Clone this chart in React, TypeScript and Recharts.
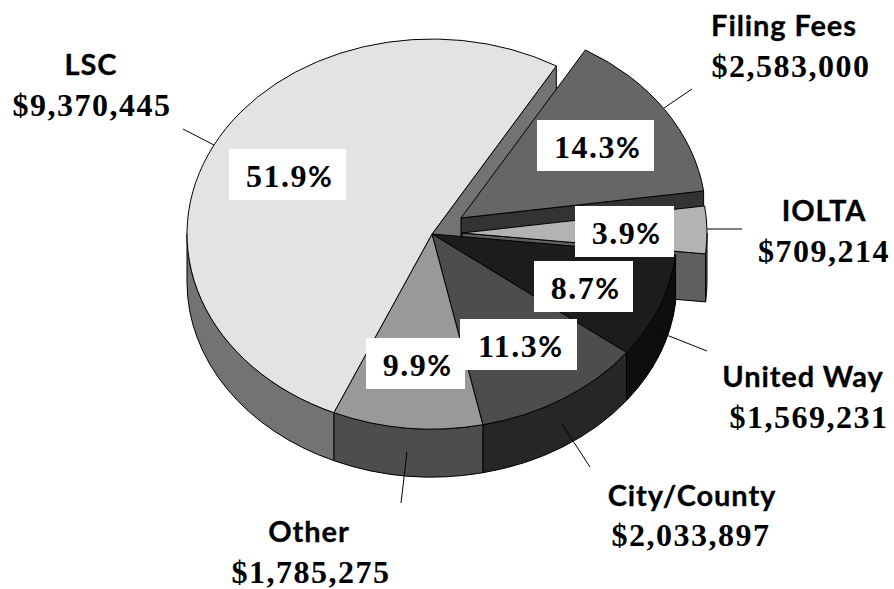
import React from "react";
import { PieChart, Pie } from "recharts";

const categories = ["Filing Fees", "IOLTA", "United Way", "City/County", "Other", "LSC"];
const amounts = [2583000, 709214, 1569231, 2033897, 1785275, 9370445];
const topFills = ["#666666", "#b3b3b3", "#1c1c1c", "#4d4d4d", "#999999", "#e3e3e3"];
const wallFills = ["#333333", "#5f5f5f", "#0e0e0e", "#262626", "#4d4d4d", "#737373"];

const rows = categories.map((name, i) => ({ name, value: amounts[i] }));

const W = 894;
const H = 589;
const CX = 432;
const CY = 234;
const RX = 245;
const RY = 195;
const DEPTH = 48;
const START = 59.5;
const NAME_FONT = "Lato, 'Open Sans', sans-serif";
const NUM_FONT = "'Liberation Serif', serif";

const explode: Record<string, [number, number]> = {
  "Filing Fees": [29, -16],
  IOLTA: [30, -1],
};

const layout: Record<string, { box: number[]; names: number[]; money: number[]; lead: number[] }> = {
  "Filing Fees": { box: [537, 120, 117, 51], names: [784, 36], money: [791, 77], lead: [692, 89, 664, 108] },
  IOLTA: { box: [575, 206, 99, 51], names: [824, 221], money: [824, 262], lead: [707, 229, 742, 229] },
  "United Way": { box: [534, 261, 99, 51], names: [803, 387], money: [809, 428], lead: [659, 332, 707, 351] },
  "City/County": { box: [460, 319, 117, 51], names: [692, 506], money: [691, 546], lead: [562, 424, 590, 467] },
  Other: { box: [366, 338, 99, 51], names: [309, 542], money: [311, 583], lead: [407, 452, 401, 503] },
  LSC: { box: [229, 149, 117, 51], names: [91, 75], money: [92, 116], lead: [183, 129, 214, 145] },
};

function pt(x: number, y: number, deg: number) {
  const r = (deg * Math.PI) / 180;
  return [x + RX * Math.cos(r), y - RY * Math.sin(r)];
}

function sliceParts(p: any) {
  const off = explode[p.name] || [0, 0];
  const x = p.cx + off[0];
  const y = p.cy + off[1];
  const hi = Math.max(p.startAngle, p.endAngle);
  const lo = Math.min(p.startAngle, p.endAngle);
  return { x, y, hi, lo };
}

function radialWallPath(x: number, y: number, a: number) {
  const e = pt(x, y, a);
  return `M${x},${y} L${e[0]},${e[1]} L${e[0]},${e[1] + DEPTH} L${x},${y + DEPTH} Z`;
}

function BackWall(p: any) {
  if (p.name !== "LSC") return <g />;
  const { x, y, lo } = sliceParts(p);
  return <path d={radialWallPath(x, y, lo)} fill={wallFills[5]} stroke="#000" strokeWidth={1} />;
}

function Slice(p: any) {
  const { x, y, hi, lo } = sliceParts(p);
  const i = categories.indexOf(p.name);
  const a = pt(x, y, hi);
  const b = pt(x, y, lo);
  const large = hi - lo > 180 ? 1 : 0;
  const top = `M${x},${y} L${a[0]},${a[1]} A${RX},${RY} 0 ${large} 1 ${b[0]},${b[1]} Z`;
  const wHi = Math.min(hi, 0);
  const wLo = Math.max(lo, -180);
  let wall = "";
  if (wHi > wLo) {
    const s = pt(x, y, wHi);
    const e = pt(x, y, wLo);
    wall = `M${s[0]},${s[1]} A${RX},${RY} 0 0 1 ${e[0]},${e[1]} L${e[0]},${e[1] + DEPTH} A${RX},${RY} 0 0 0 ${s[0]},${s[1] + DEPTH} Z`;
  }
  return (
    <g>
      {explode[p.name] ? <path d={radialWallPath(x, y, lo)} fill={wallFills[i]} stroke="#000" strokeWidth={1} /> : null}
      {wall ? <path d={wall} fill={wallFills[i]} stroke="#000" strokeWidth={1} /> : null}
      <path d={top} fill={topFills[i]} stroke="#000" strokeWidth={1} />
    </g>
  );
}

function SliceLabel(p: any) {
  const l = layout[p.name];
  const [bx, by, bw, bh] = l.box;
  const nameStyle = { fontFamily: NAME_FONT, fontWeight: 700, fontSize: 29, fill: "#000", letterSpacing: 0.9, stroke: "#000", strokeWidth: 0.3 };
  const numStyle = { fontFamily: NUM_FONT, fontWeight: 700, fontSize: 32, fill: "#000", letterSpacing: 1.5 };
  return (
    <g>
      <line x1={l.lead[0]} y1={l.lead[1]} x2={l.lead[2]} y2={l.lead[3]} stroke="#000" strokeWidth={1} />
      <rect x={bx} y={by} width={bw} height={bh} fill="#fff" />
      <text x={bx + bw / 2 + 1.5} y={by + 37.5} textAnchor="middle" {...numStyle}>
        {(p.percent * 100).toFixed(1)}
        <tspan fontFamily={NAME_FONT} fontSize={29} letterSpacing={0}>%</tspan>
      </text>
      <text x={l.names[0]} y={l.names[1]} textAnchor="middle" {...nameStyle}>
        {p.name}
      </text>
      <text x={l.money[0]} y={l.money[1]} textAnchor="middle" {...numStyle}>
        ${p.value.toLocaleString("en-US")}
      </text>
    </g>
  );
}

export default function App() {
  return (
    <div style={{ position: "absolute", left: 0, top: 0, width: W, height: H, background: "#fff" }}>
      <PieChart width={W} height={H} margin={{ top: 0, right: 0, bottom: 0, left: 0 }}>
        <Pie
          data={rows}
          dataKey="value"
          nameKey="name"
          cx={CX}
          cy={CY}
          outerRadius={RX}
          startAngle={START}
          endAngle={START - 360}
          stroke="none"
          isAnimationActive={false}
          shape={BackWall}
          legendType="none"
        />
        <Pie
          data={rows}
          dataKey="value"
          nameKey="name"
          cx={CX}
          cy={CY}
          outerRadius={RX}
          startAngle={START}
          endAngle={START - 360}
          stroke="none"
          isAnimationActive={false}
          shape={Slice}
          label={SliceLabel}
          labelLine={false}
          legendType="none"
        />
      </PieChart>
    </div>
  );
}
